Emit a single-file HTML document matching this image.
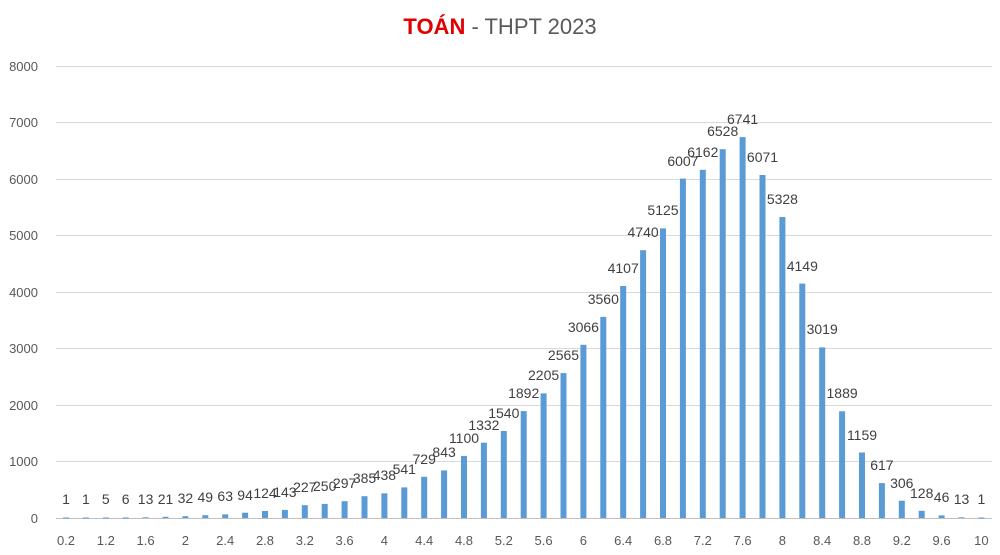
<!DOCTYPE html>
<html><head><meta charset="utf-8"><style>
body{margin:0;background:#fff}
svg{display:block;font-family:"Liberation Sans",Calibri,sans-serif}
.g line{stroke:#d9d9d9;stroke-width:1}
.y text{font-size:13px;fill:#595959;text-anchor:end}
.x text{font-size:13px;fill:#595959;text-anchor:middle}
.l text{font-size:14px;fill:#404040;text-anchor:middle}
.b rect{fill:#5b9bd5}
</style></head><body>
<svg width="1000" height="555" viewBox="0 0 1000 555">
<text x="500" y="34" text-anchor="middle" font-size="22" fill="#595959"><tspan fill="#e00000" font-weight="bold">TOÁN</tspan> - THPT 2023</text>
<g class="g">
<line x1="56" x2="992" y1="66.5" y2="66.5"/><line x1="56" x2="992" y1="122.5" y2="122.5"/><line x1="56" x2="992" y1="179.5" y2="179.5"/><line x1="56" x2="992" y1="235.5" y2="235.5"/><line x1="56" x2="992" y1="292.5" y2="292.5"/><line x1="56" x2="992" y1="348.5" y2="348.5"/><line x1="56" x2="992" y1="405.5" y2="405.5"/><line x1="56" x2="992" y1="461.5" y2="461.5"/><line x1="56" x2="992" y1="518.5" y2="518.5" style="stroke:#bfbfbf"/>
</g>
<g class="y">
<text x="38" y="71">8000</text><text x="38" y="127">7000</text><text x="38" y="184">6000</text><text x="38" y="240">5000</text><text x="38" y="297">4000</text><text x="38" y="353">3000</text><text x="38" y="410">2000</text><text x="38" y="466">1000</text><text x="38" y="523">0</text>
</g>
<g class="b">
<rect x="63" y="517.5" width="6" height="1"/><rect x="82.9" y="517.5" width="6" height="1"/><rect x="102.8" y="517.5" width="6" height="1"/><rect x="122.7" y="517.5" width="6" height="1"/><rect x="142.6" y="517.3" width="6" height="0.7"/><rect x="162.5" y="516.8" width="6" height="1.2"/><rect x="182.4" y="516.2" width="6" height="1.8"/><rect x="202.3" y="515.2" width="6" height="2.8"/><rect x="222.2" y="514.4" width="6" height="3.6"/><rect x="242.1" y="512.7" width="6" height="5.3"/><rect x="262" y="511" width="6" height="7"/><rect x="281.9" y="509.9" width="6" height="8.1"/><rect x="301.8" y="505.2" width="6" height="12.8"/><rect x="321.7" y="503.9" width="6" height="14.1"/><rect x="341.6" y="501.2" width="6" height="16.8"/><rect x="361.5" y="496.2" width="6" height="21.8"/><rect x="381.4" y="493.3" width="6" height="24.7"/><rect x="401.3" y="487.4" width="6" height="30.6"/><rect x="421.2" y="476.8" width="6" height="41.2"/><rect x="441.1" y="470.4" width="6" height="47.6"/><rect x="461" y="455.9" width="6" height="62.1"/><rect x="480.9" y="442.7" width="6" height="75.3"/><rect x="500.8" y="431" width="6" height="87"/><rect x="520.7" y="411.1" width="6" height="106.9"/><rect x="540.6" y="393.4" width="6" height="124.6"/><rect x="560.5" y="373.1" width="6" height="144.9"/><rect x="580.4" y="344.8" width="6" height="173.2"/><rect x="600.3" y="316.9" width="6" height="201.1"/><rect x="620.2" y="286" width="6" height="232"/><rect x="640.1" y="250.2" width="6" height="267.8"/><rect x="660" y="228.4" width="6" height="289.6"/><rect x="679.9" y="178.6" width="6" height="339.4"/><rect x="699.8" y="169.8" width="6" height="348.2"/><rect x="719.7" y="149.2" width="6" height="368.8"/><rect x="739.6" y="137.1" width="6" height="380.9"/><rect x="759.5" y="175" width="6" height="343"/><rect x="779.4" y="217" width="6" height="301"/><rect x="799.3" y="283.6" width="6" height="234.4"/><rect x="819.2" y="347.4" width="6" height="170.6"/><rect x="839.1" y="411.3" width="6" height="106.7"/><rect x="859" y="452.5" width="6" height="65.5"/><rect x="878.9" y="483.1" width="6" height="34.9"/><rect x="898.8" y="500.7" width="6" height="17.3"/><rect x="918.7" y="510.8" width="6" height="7.2"/><rect x="938.6" y="515.4" width="6" height="2.6"/><rect x="958.5" y="517.3" width="6" height="0.7"/><rect x="978.4" y="517.5" width="6" height="1"/>
</g>
<g class="l">
<text x="66" y="504">1</text><text x="85.9" y="504">1</text><text x="105.8" y="504">5</text><text x="125.7" y="504">6</text><text x="145.6" y="504">13</text><text x="165.5" y="504">21</text><text x="185.4" y="503">32</text><text x="205.3" y="502">49</text><text x="225.2" y="501">63</text><text x="245.1" y="500">94</text><text x="265" y="498">124</text><text x="284.9" y="497">143</text><text x="304.8" y="492">227</text><text x="324.7" y="491">250</text><text x="344.6" y="488">297</text><text x="364.5" y="483">385</text><text x="384.4" y="480">438</text><text x="404.3" y="474">541</text><text x="424.2" y="464">729</text><text x="444.1" y="457">843</text><text x="464" y="443">1100</text><text x="483.9" y="430">1332</text><text x="503.8" y="418">1540</text><text x="523.7" y="398">1892</text><text x="543.6" y="380">2205</text><text x="563.5" y="360">2565</text><text x="583.4" y="332">3066</text><text x="603.3" y="304">3560</text><text x="623.2" y="273">4107</text><text x="643.1" y="237">4740</text><text x="663" y="215">5125</text><text x="682.9" y="166">6007</text><text x="702.8" y="157">6162</text><text x="722.7" y="136">6528</text><text x="742.6" y="124">6741</text><text x="762.5" y="162">6071</text><text x="782.4" y="204">5328</text><text x="802.3" y="271">4149</text><text x="822.2" y="334">3019</text><text x="842.1" y="398">1889</text><text x="862" y="440">1159</text><text x="881.9" y="470">617</text><text x="901.8" y="488">306</text><text x="921.7" y="498">128</text><text x="941.6" y="502">46</text><text x="961.5" y="504">13</text><text x="981.4" y="504">1</text>
</g>
<g class="x">
<text x="66" y="545">0.2</text><text x="105.8" y="545">1.2</text><text x="145.6" y="545">1.6</text><text x="185.4" y="545">2</text><text x="225.2" y="545">2.4</text><text x="265" y="545">2.8</text><text x="304.8" y="545">3.2</text><text x="344.6" y="545">3.6</text><text x="384.4" y="545">4</text><text x="424.2" y="545">4.4</text><text x="464" y="545">4.8</text><text x="503.8" y="545">5.2</text><text x="543.6" y="545">5.6</text><text x="583.4" y="545">6</text><text x="623.2" y="545">6.4</text><text x="663" y="545">6.8</text><text x="702.8" y="545">7.2</text><text x="742.6" y="545">7.6</text><text x="782.4" y="545">8</text><text x="822.2" y="545">8.4</text><text x="862" y="545">8.8</text><text x="901.8" y="545">9.2</text><text x="941.6" y="545">9.6</text><text x="981.4" y="545">10</text>
</g>
</svg>
</body></html>
